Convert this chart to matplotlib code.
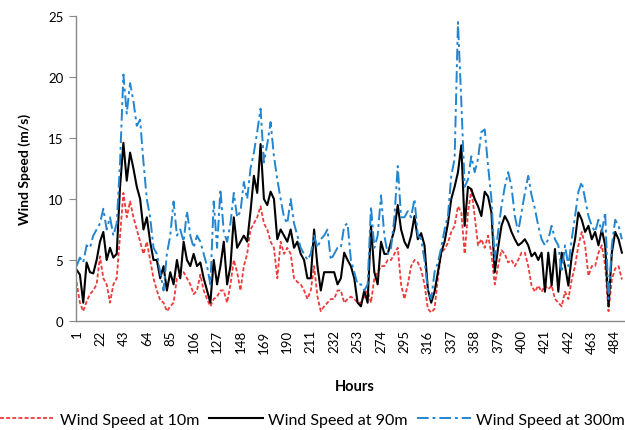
import numpy as np
import matplotlib
matplotlib.use("Agg")
import matplotlib.pyplot as plt

# hourly series, read every 3 hours off the original chart
hours = np.arange(1, 491, 3)

wind_300m = [
    4.5, 5.2, 4.8, 6.2, 6.0, 7.0, 7.5, 8.0, 9.2, 7.5,
    8.5, 7.0, 8.0, 13.0, 20.2, 17.0, 19.5, 18.0, 16.0, 16.5,
    13.0, 10.0, 8.5, 6.0, 5.5, 4.0, 2.5, 5.5, 7.0, 9.8,
    7.0, 7.5, 6.5, 9.0, 7.0, 6.0, 7.0, 6.5, 5.5, 4.5,
    3.0, 9.8, 6.0, 10.8, 7.3, 6.5, 8.0, 10.5, 8.5, 9.0,
    11.4, 10.0, 12.5, 13.8, 15.5, 17.4, 13.0, 14.5, 16.3, 13.5,
    11.6, 10.0, 8.5, 8.0, 10.0, 8.0, 7.0, 6.0, 5.5, 5.0,
    5.5, 7.0, 6.0, 6.7, 7.0, 7.5, 5.0, 5.5, 6.0, 6.0,
    7.8, 8.0, 5.0, 4.0, 3.0, 3.0, 2.5, 3.0, 9.4, 6.0,
    7.0, 10.3, 7.0, 5.5, 6.0, 8.5, 12.7, 8.5, 8.5, 9.0,
    8.5, 10.0, 7.0,
    6.7, 5.0, 2.5, 1.8, 4.0, 4.8, 6.0, 7.5, 8.6, 11.9,
    13.3, 24.5, 18.0, 11.0, 11.6, 13.5, 12.2, 13.3, 15.5, 15.7,
    12.7, 10.0, 5.0, 7.3, 9.4, 11.0, 12.2, 11.0, 8.6, 7.3,
    8.9, 10.5, 11.9, 10.3, 9.2, 7.8, 6.7, 6.2, 6.7, 7.8,
    6.7, 6.2, 4.0, 6.2, 4.5, 6.7, 8.6, 10.6, 11.4, 10.0,
    8.6, 7.8, 7.3, 8.3, 7.3, 8.9, 1.8, 6.2, 8.3, 7.8, 6.7,
]

wind_90m = [
    4.2, 3.8, 1.5, 4.8, 4.0, 3.9, 5.0, 6.5, 7.3, 5.0,
    6.0, 5.2, 5.5, 11.0, 14.6, 11.5, 13.8, 12.5, 11.0, 10.0,
    7.5, 8.5, 6.5, 5.0, 5.0, 3.5, 4.5, 2.5, 4.0, 3.0,
    5.0, 3.5, 6.5, 5.0, 4.5, 5.5, 4.5, 4.8, 3.5, 2.5,
    1.5, 5.0, 3.0, 4.5, 6.5, 3.0, 4.5, 8.5, 6.0, 6.5,
    7.0, 6.5, 9.0, 11.9, 10.5, 14.5, 10.0, 9.5, 10.6, 10.0,
    6.7, 7.5, 7.0, 6.5, 7.5, 6.0, 6.5, 5.5, 5.0, 3.5,
    3.5, 7.5, 4.5, 2.5, 4.0, 4.0, 4.0, 4.0, 3.0, 3.5,
    5.6, 5.0, 4.5, 3.5, 1.5, 1.2, 2.5, 1.5, 7.8, 4.0,
    3.0, 6.5, 5.5, 5.5, 6.5, 7.5, 9.5, 7.5, 6.5, 6.0,
    7.0, 8.6, 6.7,
    7.2, 6.2, 2.6, 1.5, 2.4, 4.0, 5.6, 6.5, 8.0, 10.0,
    11.0, 12.2, 14.4, 7.8, 11.0, 10.8, 10.0, 9.4, 8.6, 10.6,
    10.2, 8.9, 4.0, 6.0, 7.8, 8.6, 8.1, 7.3, 6.7, 6.2,
    6.4, 6.7, 6.2, 5.3, 5.6, 5.0, 5.6, 2.4, 5.6, 2.9,
    5.9, 2.4, 5.6, 4.5, 2.9, 5.3, 6.7, 8.9, 8.3, 7.3,
    7.8, 6.7, 7.3, 6.2, 7.5, 6.2, 1.2, 5.6, 7.3, 6.7, 5.6,
]

wind_10m = [
    3.2, 1.5, 0.8, 1.6, 2.2, 2.5, 3.0, 5.3, 3.5, 3.0,
    1.5, 3.0, 3.5, 7.0, 10.5, 8.5, 9.8, 8.5, 7.5, 6.5,
    5.5, 6.5, 5.0, 3.5, 2.5, 1.7, 1.5, 0.8, 1.2, 1.5,
    3.5, 3.8, 4.0, 3.5, 3.0, 2.2, 2.5, 3.8, 2.5, 1.8,
    1.2, 1.8, 2.0, 2.5, 2.5, 1.5, 3.0, 5.0, 4.0, 2.5,
    4.5, 5.5, 7.5, 8.0, 8.5, 9.4, 8.0, 7.5, 6.5, 6.0,
    3.5, 6.5, 5.5, 6.0, 5.5, 3.5, 3.2, 3.0, 2.5, 1.8,
    2.5, 4.5, 2.0, 0.8, 1.2, 1.5, 1.8, 1.8, 2.5, 2.5,
    1.5, 1.8, 2.0, 1.8, 1.5, 1.5, 2.0, 2.5, 1.5, 3.5,
    4.0, 4.5, 4.5, 5.0, 5.0, 5.5, 6.0, 3.0, 1.8, 3.0,
    4.5, 5.0, 4.8,
    4.2, 3.0, 1.0, 0.7, 1.0, 3.5, 5.6, 5.9, 6.4, 7.3,
    7.8, 9.4, 8.9, 5.5, 8.9, 10.8, 8.6, 6.2, 6.7, 6.0,
    7.0, 5.5, 3.0, 4.5, 5.8, 5.5, 4.8, 5.0, 4.5, 5.0,
    5.6, 5.6, 4.5, 2.9, 2.4, 2.9, 2.4, 2.9, 2.6, 2.9,
    1.8, 1.5, 1.2, 2.4, 1.8, 3.4, 4.5, 6.2, 7.3, 6.2,
    3.7, 4.5, 4.5, 5.6, 6.2, 4.5, 0.8, 3.4, 4.3, 4.5, 3.4,
]

tick_hours = list(range(1, 485, 21))

plt.rcParams["font.family"] = ["Lato", "DejaVu Sans"]

fig = plt.figure(figsize=(6.25, 4.31), dpi=100)
ax = fig.add_axes([0.1216, 0.2529, 0.877, 0.7077])

ax.plot(hours, wind_10m, color="#EE3B3B", lw=1.3, dashes=(2.2, 1.2),
        label="Wind Speed at 10m")
ax.plot(hours, wind_90m, color="black", lw=1.5, label="Wind Speed at 90m")
ax.plot(hours, wind_300m, color="#2185D0", lw=1.4, dashes=(6, 2, 1.5, 2),
        label="Wind Speed at 300m")

ax.set_xlim(0.5, 492)
ax.set_ylim(0, 25)
ax.set_yticks([0, 5, 10, 15, 20, 25])
ax.set_xticks(tick_hours)
ax.set_xticklabels([str(h) for h in tick_hours], rotation=90)
ax.tick_params(axis="x", length=0, labelsize=9.5, pad=6)
ax.tick_params(axis="y", length=5, color="#888888", labelsize=9.5, pad=4)

for side in ["top", "right"]:
    ax.spines[side].set_visible(False)
for side in ["left", "bottom"]:
    ax.spines[side].set_color("#888888")
    ax.spines[side].set_linewidth(1.0)

ax.set_ylabel("Wind Speed (m/s)", fontsize=10, fontweight="bold", labelpad=12)
fig.text(0.568, 0.102, "Hours", ha="center", va="center",
         fontsize=10.5, fontweight="bold")

fig.legend(loc="center", bbox_to_anchor=(0.5, 0.024), ncol=3, frameon=False,
           fontsize=11.5, handlelength=3.4, handletextpad=0.3,
           columnspacing=0.6)

fig.savefig("out.png", dpi=100)
